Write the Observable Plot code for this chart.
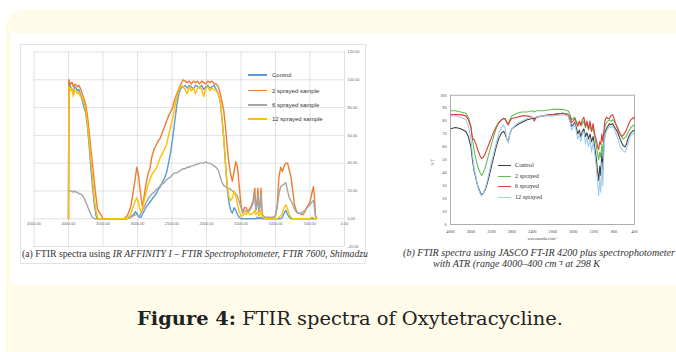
<!DOCTYPE html>
<html><head><meta charset="utf-8">
<script src="https://cdn.jsdelivr.net/npm/d3@7"></script>
<script src="https://cdn.jsdelivr.net/npm/@observablehq/plot@0.6"></script>
<style>
html,body{margin:0;padding:0}
body{width:676px;height:352px;overflow:hidden;background:#fff;position:relative;font-family:"Liberation Serif",serif}
#cream{position:absolute;left:5px;top:9px;width:720px;height:380px;background:#fffbe9;border-radius:22px}
#panel{position:absolute;left:11px;top:33px;width:680px;height:252px;background:#fff}
#frameA{position:absolute;left:20px;top:44px;width:346px;height:220px;border:1px solid #e3e3e3;box-sizing:border-box}
#chartA{position:absolute;left:20px;top:45px}
#chartB{position:absolute;left:420px;top:88px}
.abs{position:absolute;white-space:nowrap;transform-origin:0 50%}
.leg{position:absolute;height:0}
</style></head>
<body>
<div id="cream"></div>
<div id="panel"></div>
<div id="frameA"></div>
<div id="chartA"></div>
<div id="chartB"></div>
<div id="legA"></div>
<div id="legB"></div>
<div id="capA" class="abs" style="left:22px;top:249.5px;font-size:9.5px;line-height:9.5px;color:#333">(a) FTIR spectra using <i>IR AFFINITY I – FTIR Spectrophotometer, FTIR 7600, Shimadzu</i></div>
<div id="capB1" class="abs" style="left:403px;top:248.5px;font-size:9.5px;line-height:9.5px;color:#333;font-style:italic">(b) FTIR spectra using JASCO FT-IR 4200 plus spectrophotometer</div>
<div id="capB2" class="abs" style="left:433px;top:259.7px;font-size:9.5px;line-height:9.5px;color:#333;font-style:italic">with ATR (range 4000–400 cm⁻¹ at 298 K</div>
<div id="figCap" class="abs" style="left:137px;top:309.8px;font-family:'DejaVu Serif',serif;font-size:18px;line-height:18px;color:#222"><b>Figure 4:</b> FTIR spectra of Oxytetracycline.</div>
<script>
// ---------- Chart (a): IR AFFINITY I ----------
const wnA = [
4000,3995,3970,3950,3930,3910,3890,3870,3850,3830,
3800,3775,3750,3725,3700,3675,3650,3625,3600,3580,
3560,3530,3500,3400,3300,3200,3150,3100,3060,3030,
3010,2990,2970,2950,2930,2910,2880,2850,2820,2790,
2760,2730,2700,2670,2640,2610,2580,2550,2520,2490,
2460,2430,2400,2370,2340,2310,2280,2250,2220,2190,
2160,2130,2100,2070,2040,2010,1980,1950,1920,1890,
1860,1830,1800,1775,1750,1725,1700,1675,1650,1625,
1600,1575,1550,1525,1500,1475,1450,1425,1400,1375,
1350,1325,1300,1285,1270,1255,1240,1225,1210,1195,
1180,1150,1120,1090,1060,1030,1000,975,950,925,
900,875,850,825,800,775,750,725,700,675,
650,625,600,575,550,525,500,475,450,435,
420,405];
const controlA = [
0,98,95,93,90,95,94,92,93,90,
85,80,76,66,52,36,22,10,2,0,
0,0,0,0,0,0,0,1,3,5,
4,2,1,1,3,5,8,10,12,14,
16,18,21,23,26,29,33,40,48,58,
70,82,90,94,95,96,94,96,95,93,
96,95,94,96,93,95,96,94,95,96,
93,90,84,72,58,40,22,12,6,4,
8,6,3,1,0,0,0,0,0,0,
0,0,0,0,1,0,1,0,1,0,
0,0,0,0,0,0,0,0,0,0,
1,4,6,3,1,0,0,0,0,0,
0,0,0,0,0,0,0,0,0,0,
0,0];
const sprayed2A = [
0,100,97,98,95,97,96,95,96,94,
90,86,82,74,62,50,38,26,15,7,
5,3,0,0,0,0,2,8,20,30,
37,33,24,16,9,14,24,32,36,45,
50,53,56,58,62,66,70,74,77,80,
86,90,94,97,100,99,98,99,97,99,
98,99,97,99,98,97,99,98,99,97,
97,95,90,84,78,66,52,40,32,27,
34,41,37,23,10,4,8,8,5,7,
9,13,22,6,10,22,5,10,22,4,
2,1,1,1,1,1,2,10,30,37,
34,38,40,40,35,30,20,10,6,4,
4,3,3,5,8,10,12,18,23,15,
2,1];
const sprayed6A = [
20,20,20,20,19,20,19,19,18,18,
17,15,12,9,6,3,1,0,0,0,
0,0,0,0,0,0,0,1,2,3,
3,2,2,4,6,8,11,14,16,18,
19,21,22,24,25,26,28,29,30,32,
33,33,34,35,36,36,37,37,38,38,
39,39,40,40,40,41,40,40,39,38,
37,35,30,26,24,23,22,22,21,20,
19,18,16,12,8,5,6,5,5,6,
8,11,18,6,9,17,5,8,18,4,
2,1,1,1,1,1,2,8,18,23,
24,25,26,20,15,13,10,7,5,4,
4,4,5,6,7,9,10,12,13,8,
2,1];
const sprayed12A = [
0,95,92,94,88,93,92,90,91,88,
87,83,78,68,56,42,28,14,5,1,
0,0,0,0,0,0,0,3,9,13,
15,12,8,5,7,12,18,24,28,32,
34,36,40,44,47,50,53,60,66,72,
80,88,93,96,95,93,90,95,92,94,
90,94,95,93,88,94,95,92,94,93,
92,90,85,72,58,40,24,16,13,15,
20,16,10,5,2,2,4,3,5,3,
3,4,6,3,4,5,2,3,6,2,
1,0,0,0,0,0,0,0,1,2,
4,8,10,7,3,1,0,0,0,0,
0,0,0,0,0,0,0,1,1,0,
0,0];
const namesA = ["Control","2 sprayed sample","6 sprayed sample","12 sprayed sample"];
const colorsA = ["#5b9bd5","#ed7d31","#a5a5a5","#ffc000"];
const xTicksA = [4500,4000,3500,3000,2500,2000,1500,1000,500,0];
const yTicksA = [-20,0,20,40,60,80,100,120];

// ---------- Chart (b): JASCO FT-IR 4200 ----------
const wnB = [
4000,3900,3800,3700,3650,3600,3570,3540,3500,3460,
3420,3390,3360,3320,3280,3240,3200,3150,3100,3050,
3000,2960,2930,2900,2870,2840,2800,2700,2600,2500,
2400,2360,2320,2200,2000,1800,1700,1660,1630,1600,
1570,1540,1510,1480,1450,1420,1390,1360,1330,1300,
1270,1240,1210,1180,1150,1120,1100,1080,1060,1040,
1020,1000,980,950,920,890,860,830,800,770,
740,710,680,650,620,590,560,530,500,470,
440,410,400];
const controlB = [
74,75,74,72,68,60,50,42,35,29,
25,23,24,27,32,38,45,53,61,67,
71,72,70,66,64,70,74,77,79,81,
82,82,83,84,85,86,85,80,76,77,
79,75,70,73,68,72,74,68,71,66,
70,64,68,60,52,40,34,45,38,55,
42,60,70,74,76,78,77,78,76,74,
72,69,66,63,61,60,62,66,69,71,
72,73,72];
const sprayed2B = [
88,88,87,86,83,76,66,58,50,44,
40,38,40,44,50,56,62,69,75,79,
81,82,81,79,78,81,84,86,87,87,
88,87,88,88,89,89,88,85,81,82,
83,80,77,79,76,78,80,75,78,73,
77,72,75,68,62,54,50,56,52,62,
55,66,75,79,80,81,80,81,80,78,
76,73,70,68,66,67,68,71,73,75,
76,77,76];
const sprayed6B = [
85,85,85,84,81,75,66,66,62,57,
53,51,52,55,59,63,67,72,76,79,
81,82,82,79,77,80,82,83,84,84,
83,80,83,84,85,86,85,83,79,80,
82,79,76,80,77,81,83,76,80,74,
80,72,78,70,66,60,58,64,62,70,
64,72,80,83,82,82,84,85,82,78,
75,72,70,68,69,71,73,76,79,81,
82,83,81];
const sprayed12B = [
84,84,83,81,76,66,54,44,36,28,
24,22,24,28,34,41,48,56,64,71,
75,77,74,66,63,70,74,78,80,82,
83,83,83,84,84,85,84,79,73,75,
78,72,66,70,64,70,72,62,68,60,
66,56,64,55,45,32,22,35,25,48,
30,55,68,72,74,76,75,76,74,71,
68,64,60,58,57,56,58,62,66,69,
70,71,70];
const namesB = ["Control","2 sprayed","6 sprayed","12 sprayed"];
const colorsB = ["#404040","#62bf55","#dc3d38","#a3cdef"];
const xTicksB = [4000,3600,3200,2800,2400,2000,1600,1200,800,400];
const yTicksB = [0,10,20,30,40,50,60,70,80,90,100];

// ---------- build ----------
const seriesA = [controlA, sprayed2A, sprayed6A, sprayed12A].map((v,k)=>({name:namesA[k], color:colorsA[k], rows: wnA.map((w,i)=>({wn:w, t:v[i]}))}));
const seriesB = [controlB, sprayed2B, sprayed6B, sprayed12B].map((v,k)=>({name:namesB[k], color:colorsB[k], rows: wnB.map((w,i)=>({wn:w, t:v[i]}))}));

const chartA = Plot.plot({
  width:346, height:205, marginLeft:13.5, marginRight:22, marginTop:6.5, marginBottom:4,
  style:{fontFamily:"Liberation Sans, sans-serif", background:"transparent", overflow:"visible"},
  x:{domain:[4500,0], axis:null},
  y:{domain:[-20,120], axis:null},
  marks:[
    Plot.gridX(xTicksA,{stroke:"#d9d9d9", strokeOpacity:1, strokeWidth:0.8}),
    Plot.gridY(yTicksA,{stroke:"#d9d9d9", strokeOpacity:1, strokeWidth:0.8}),
    Plot.text(xTicksA,{x:d=>d, y:0, dy:5, text:d=>d.toFixed(2), fontSize:3.9, fill:"#666"}),
    Plot.text(yTicksA,{frameAnchor:"right", y:d=>d, dx:3, textAnchor:"start", text:d=>d.toFixed(2), fontSize:3.9, fill:"#666"}),
    ...seriesA.map(s=>Plot.line(s.rows,{x:"wn", y:"t", stroke:s.color, strokeWidth:1.4, curve:"linear"}))
  ]
});
document.getElementById("chartA").append(chartA);

const chartB = Plot.plot({
  width:225, height:160, marginLeft:30, marginRight:11, marginTop:6.7, marginBottom:24,
  style:{fontFamily:"Liberation Serif, serif", background:"transparent", overflow:"visible"},
  x:{domain:[4000,400], axis:null},
  y:{domain:[0,100], axis:null},
  marks:[
    ...seriesB.map(s=>Plot.line(s.rows,{x:"wn", y:"t", stroke:s.color, strokeWidth:1.1})),
    Plot.frame({stroke:"#9a9a9a", strokeWidth:0.8}),
    Plot.text(yTicksB,{frameAnchor:"left", y:d=>d, dx:-4, textAnchor:"end", text:d=>String(d), fontSize:4.2, fill:"#444"}),
    Plot.text(xTicksB,{frameAnchor:"bottom", x:d=>d, dy:8, text:d=>String(d), fontSize:4.2, fill:"#444"}),
    Plot.text(["wavenumber/cm⁻¹"],{frameAnchor:"bottom", dy:15, fontSize:4.2, fill:"#444"}),
    Plot.text(["%T"],{frameAnchor:"left", dx:-18, dy:6, rotate:-90, fontSize:4.5, fill:"#444"})
  ]
});
document.getElementById("chartB").append(chartB);

// legends
function legend(id, series, x0, x1, tx, ys, fs, font){
  const box = document.getElementById(id);
  series.forEach((s,i)=>{
    const l = document.createElement("div");
    l.className="leg";
    l.style.cssText = `position:absolute;left:${x0}px;top:${ys[i]-0.65}px;width:${x1-x0}px;height:1.3px;background:${s.color}`;
    box.append(l);
    const t = document.createElement("div");
    t.className="abs";
    t.textContent = s.name;
    t.style.cssText += `left:${tx}px;top:${ys[i]-fs/2}px;font-size:${fs}px;line-height:${fs}px;font-family:${font};color:#333`;
    box.append(t);
  });
}
legend("legA", seriesA, 248, 267, 272, [75,90.7,105,119], 6, "'Liberation Sans',sans-serif");
legend("legB", seriesB, 498, 511, 515, [165.3,176.3,186.3,197.3], 6.2, "'Liberation Serif',serif");

// fit captions to measured widths
function fit(id, w){
  const el = document.getElementById(id);
  const r = el.getBoundingClientRect().width;
  el.style.transform = `scaleX(${w/r})`;
}
fit("capA", 346);
fit("capB1", 272);
fit("capB2", 167);
fit("figCap", 426);
</script>
</body></html>
